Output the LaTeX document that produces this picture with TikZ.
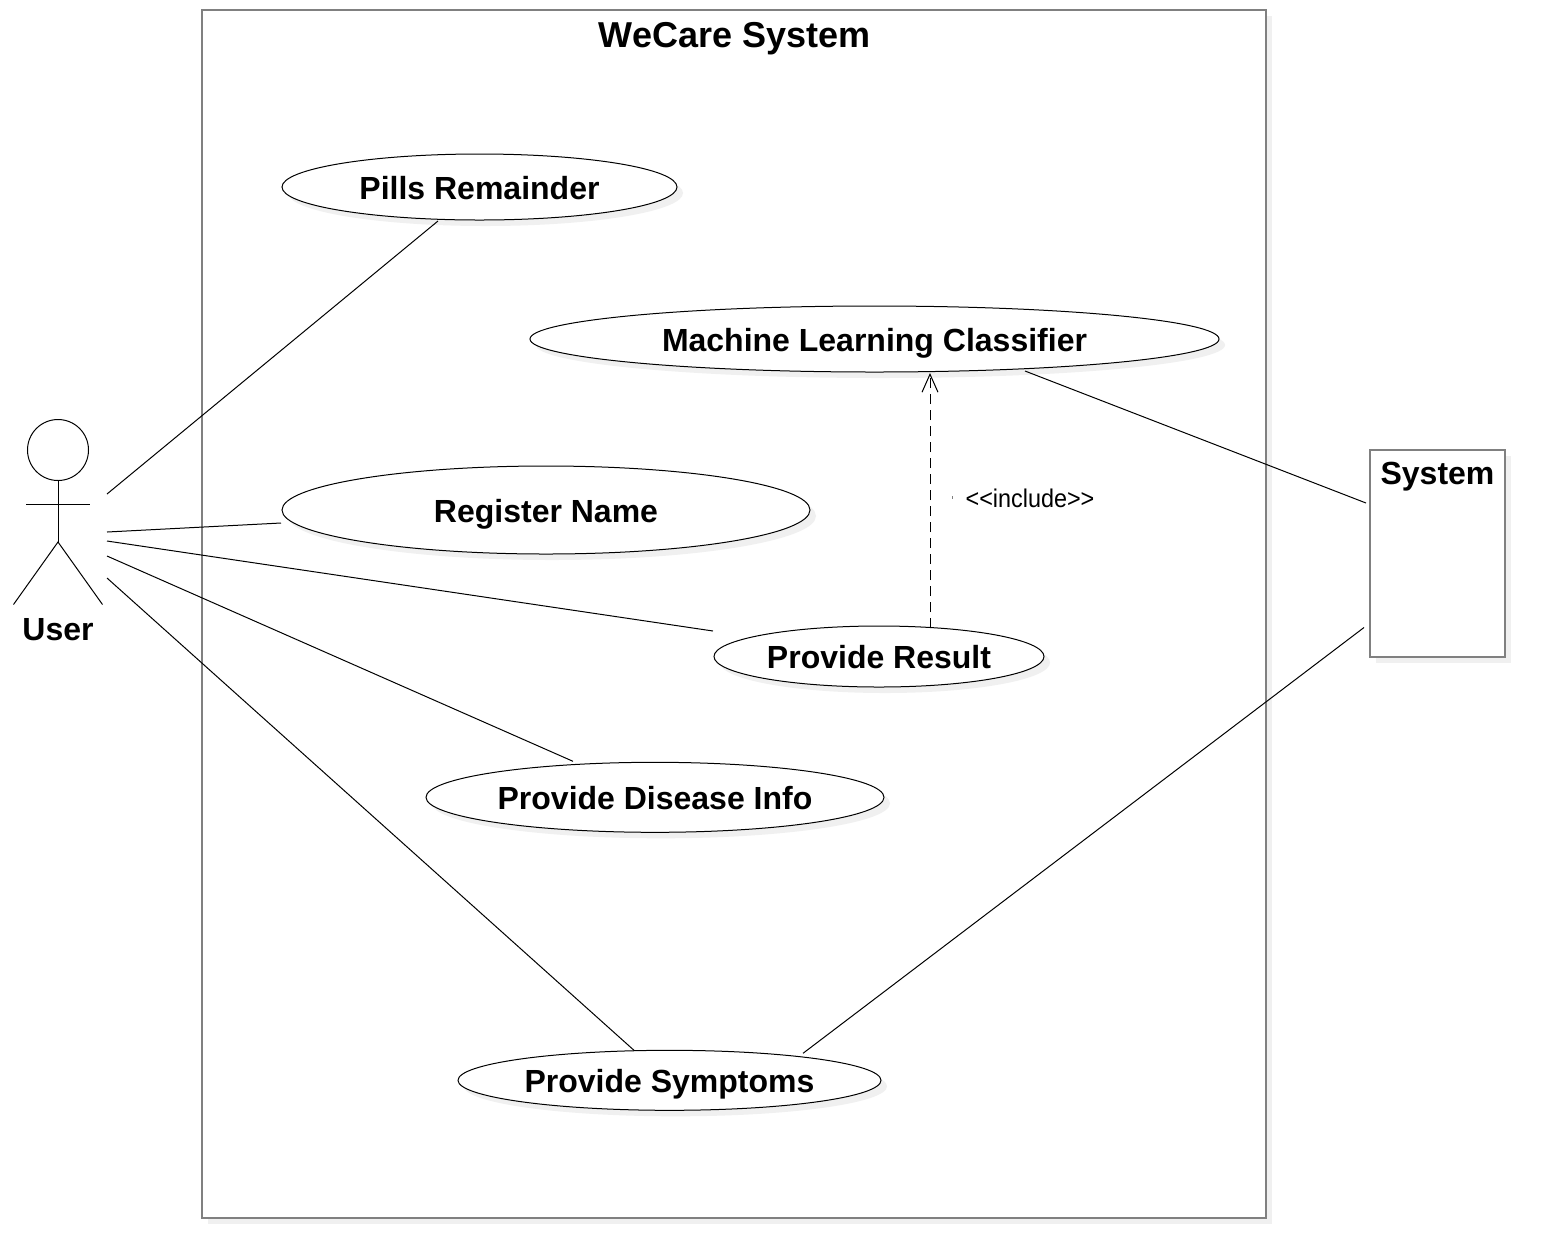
\documentclass[tikz,border=0pt]{standalone}
\usepackage{graphicx}
\usepackage{fontspec}
\setmainfont{Liberation Sans}
\usetikzlibrary{shapes.geometric,arrows.meta,shadows,calc}
\definecolor{shadowgrey}{HTML}{F0F0F0}
\definecolor{framegrey}{HTML}{808080}
\tikzset{
  softshadow/.style={copy shadow={shadow xshift=4.5pt,shadow yshift=-4.5pt,fill=shadowgrey,draw=none}},
  usecase/.style={ellipse,draw=black,fill=white,line width=.75pt,inner sep=0pt,outer sep=0pt,softshadow,
    font=\fontsize{24}{28}\selectfont\bfseries,text height=18.7pt,text depth=0pt},
  frame/.style={rectangle,draw=framegrey,fill=white,line width=1.5pt,inner sep=0pt,outer sep=0pt,softshadow},
  caption/.style={inner sep=0pt,outer sep=0pt,font=\fontsize{24}{28}\selectfont\bfseries,text height=17.2pt,text depth=0pt},
  title/.style={inner sep=0pt,outer sep=0pt,font=\fontsize{27}{30}\selectfont\bfseries,text height=19.4pt,text depth=0pt},
  assoc/.style={draw=black,line width=.75pt},
  includes/.style={draw=black,line width=.75pt,dash pattern=on 7.5pt off 4.5pt,-{Straight Barb[length=13.5pt,width=12pt]}},
  stick/.style={draw=black,line width=.75pt},
}
\begin{document}
\begin{tikzpicture}[x=.75pt,y=-.75pt]
\useasboundingbox (0,0) rectangle (1545,1258);
% boundary
\node[frame,minimum width=798pt,minimum height=906pt] (boundary) at (734,614) {};
\node[title] (boundarytitle) at (734.5,35) {WeCare System};
% use cases
\node[usecase,minimum width=296.25pt,minimum height=49.5pt] (pills) at (479.5,187) {Pills Remainder};
\node[usecase,minimum width=516.75pt,minimum height=49.5pt] (ml) at (874.5,339) {Machine Learning Classifier};
\node[usecase,minimum width=396pt,minimum height=66pt] (reg) at (546,510) {Register Name};
\node[usecase,minimum width=247.5pt,minimum height=45.75pt] (result) at (879,656.5) {Provide Result};
\node[usecase,minimum width=343.5pt,minimum height=52.5pt] (disease) at (655,797.3) {Provide Disease Info};
\node[usecase,minimum width=317.25pt,minimum height=45pt] (symptoms) at (669.5,1080.3) {Provide Symptoms};
% external system
\node[frame,minimum width=101.25pt,minimum height=155.25pt] (system) at (1437.5,553.5) {};
\node[caption] (systemlabel) at (1437.5,473) {System};
% actor
\node[circle,draw=black,line width=.75pt,inner sep=0pt,outer sep=0pt,minimum size=45.75pt] (head) at (58,450) {};
\coordinate (hip) at (58,542);
\coordinate (armL) at (26,504.5);
\coordinate (armR) at (90,504.5);
\coordinate (footL) at (13.5,604.5);
\coordinate (footR) at (102.5,604.5);
\draw[stick] (head.south) -- (hip);
\draw[stick] (armL) -- (armR);
\draw[stick] (footL) -- (hip) -- (footR);
\node[caption] (userlabel) at (58,629) {User};
\coordinate (actorside) at (107,532);
% associations
\draw[assoc] ($(actorside)+(0,-38)$) -- ($(pills.south)+(-41.5,1)$);
\draw[assoc] (actorside) -- ($(reg.west)+(-1,13)$);
\draw[assoc] ($(actorside)+(0,9)$) -- ($(result.west)+(-1,-25.5)$);
\draw[assoc] ($(actorside)+(0,24)$) -- ($(disease.north)+(-82,-1)$);
\draw[assoc] ($(actorside)+(0,46)$) -- ($(symptoms.north)+(-35.5,0)$);
\draw[assoc] ($(ml.south)+(150.5,-1)$) -- ($(system.west)+(-4,-50.5)$);
\draw[assoc] ($(symptoms.north)+(133.5,3)$) -- ($(system.west)+(-6,74)$);
% include
\draw[includes] ($(result.north)+(51,2)$) -- ($(ml.south)+(55.5,1)$);
\node[inner sep=0pt,outer sep=0pt,font=\fontsize{19.2}{22}\selectfont] (includelabel) at (1030,498) {\scalebox{.914}[1]{{<}{<}include{>}{>}}};
\coordinate (tick) at (952.7,496);
\draw[draw=framegrey,line width=.5pt] (tick) -- ++(0,2.5);
\end{tikzpicture}
\end{document}
